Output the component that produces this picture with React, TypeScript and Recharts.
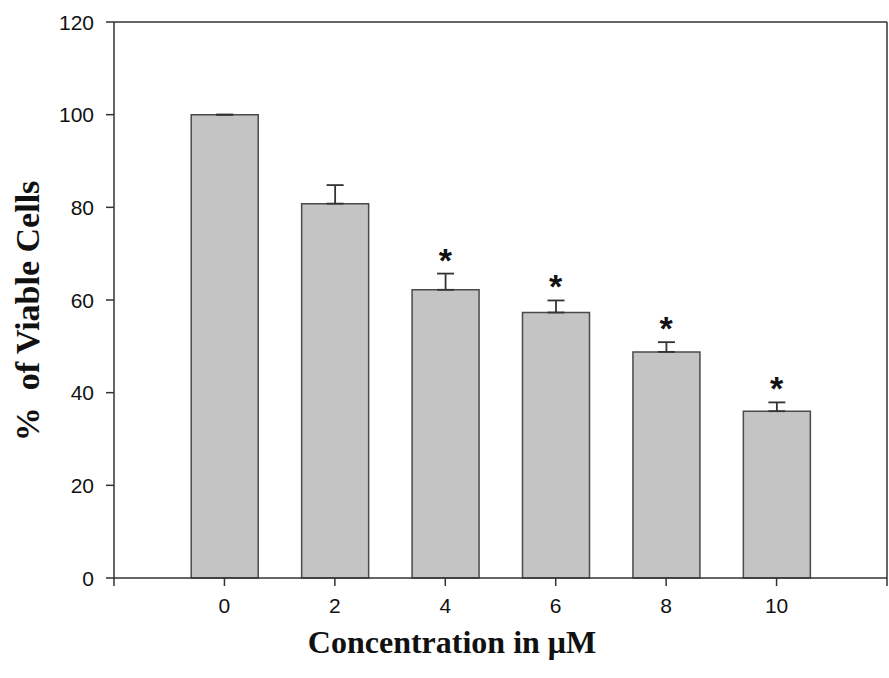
import React from "react";
import { ComposedChart, Bar, XAxis, YAxis, ErrorBar, Scatter, ReferenceLine } from "recharts";

const concentrations = [0, 2, 4, 6, 8, 10];
const viability = [100, 80.8, 62.2, 57.3, 48.8, 36.0];
const sem = [0, 4.0, 3.5, 2.6, 2.1, 1.9];
const significant = [false, false, true, true, true, true];
const xTicks = [-2, 0, 2, 4, 6, 8, 10, 12];
const yTicks = [0, 20, 40, 60, 80, 100, 120];

const data = concentrations.map((c, i) => ({
  x: c,
  mean: viability[i],
  err: [0, sem[i]],
}));

const starData = concentrations
  .map((c, i) => ({ x: c, top: viability[i] + sem[i], sig: significant[i] }))
  .filter((d) => d.sig);

const Star = (props: any) => {
  const { cx, cy } = props;
  return (
    <text x={cx} y={cy - 2} textAnchor="middle" fontFamily="Liberation Sans, Arial, sans-serif" fontWeight="bold" fontSize={34} fill="#111">
      *
    </text>
  );
};

const YTitle = () => (
  <text
    x={39}
    y={311}
    transform="rotate(-90, 39, 311)"
    textAnchor="middle"
    fontFamily="Liberation Serif, Times New Roman, serif"
    fontWeight="bold"
    fontSize={34}
    fill="#111"
    style={{ whiteSpace: "pre" }}
  >
    {"%  of Viable Cells"}
  </text>
);

const XTitle = () => (
  <text
    x={452}
    y={653}
    textAnchor="middle"
    fontFamily="Liberation Serif, Times New Roman, serif"
    fontWeight="bold"
    fontSize={32}
    fill="#111"
  >
    Concentration in μM
  </text>
);

const XTick = (props: any) => {
  const { x, y, payload } = props;
  const v = payload.value;
  if (v < 0 || v > 10) return null;
  return (
    <text x={x} y={y + 7} textAnchor="middle" dominantBaseline="central" fontFamily="Liberation Sans, Arial, sans-serif" fontSize={21} fill="#111">
      {v}
    </text>
  );
};

const YTick = (props: any) => {
  const { x, y, payload } = props;
  return (
    <text x={x} y={y} textAnchor="end" dominantBaseline="central" fontFamily="Liberation Sans, Arial, sans-serif" fontSize={21} fill="#111">
      {payload.value}
    </text>
  );
};

export default function App() {
  return (
    <div style={{ position: "absolute", left: 0, top: 0, background: "#fff" }}>
      <ComposedChart width={889} height={678} data={data} margin={{ top: 22, right: 2, left: 0, bottom: 0 }}>
        <XAxis
          dataKey="x"
          type="number"
          domain={[-2, 12]}
          ticks={xTicks}
          allowDataOverflow
          height={100}
          tickSize={8}
          tickMargin={12}
          tick={<XTick />}
          axisLine={{ stroke: "#333", strokeWidth: 1.5 }}
          tickLine={{ stroke: "#333", strokeWidth: 1.5 }}
          label={{ content: XTitle }}
        />
        <YAxis
          type="number"
          domain={[0, 120]}
          ticks={yTicks}
          width={114}
          tickSize={8}
          tickMargin={12}
          tick={<YTick />}
          axisLine={{ stroke: "#333", strokeWidth: 1.5 }}
          tickLine={{ stroke: "#333", strokeWidth: 1.5 }}
          label={{ content: YTitle }}
        />
        <ReferenceLine y={120} stroke="#333" strokeWidth={1.5} />
        <ReferenceLine x={12} stroke="#333" strokeWidth={1.5} />
        <Bar dataKey="mean" barSize={67} fill="#c4c4c4" stroke="#4a4a4a" strokeWidth={1.5} isAnimationActive={false}>
          <ErrorBar dataKey="err" width={8.5} stroke="#333" strokeWidth={1.8} direction="y" />
        </Bar>
        <Scatter data={starData} dataKey="top" shape={<Star />} isAnimationActive={false} />
      </ComposedChart>
    </div>
  );
}
